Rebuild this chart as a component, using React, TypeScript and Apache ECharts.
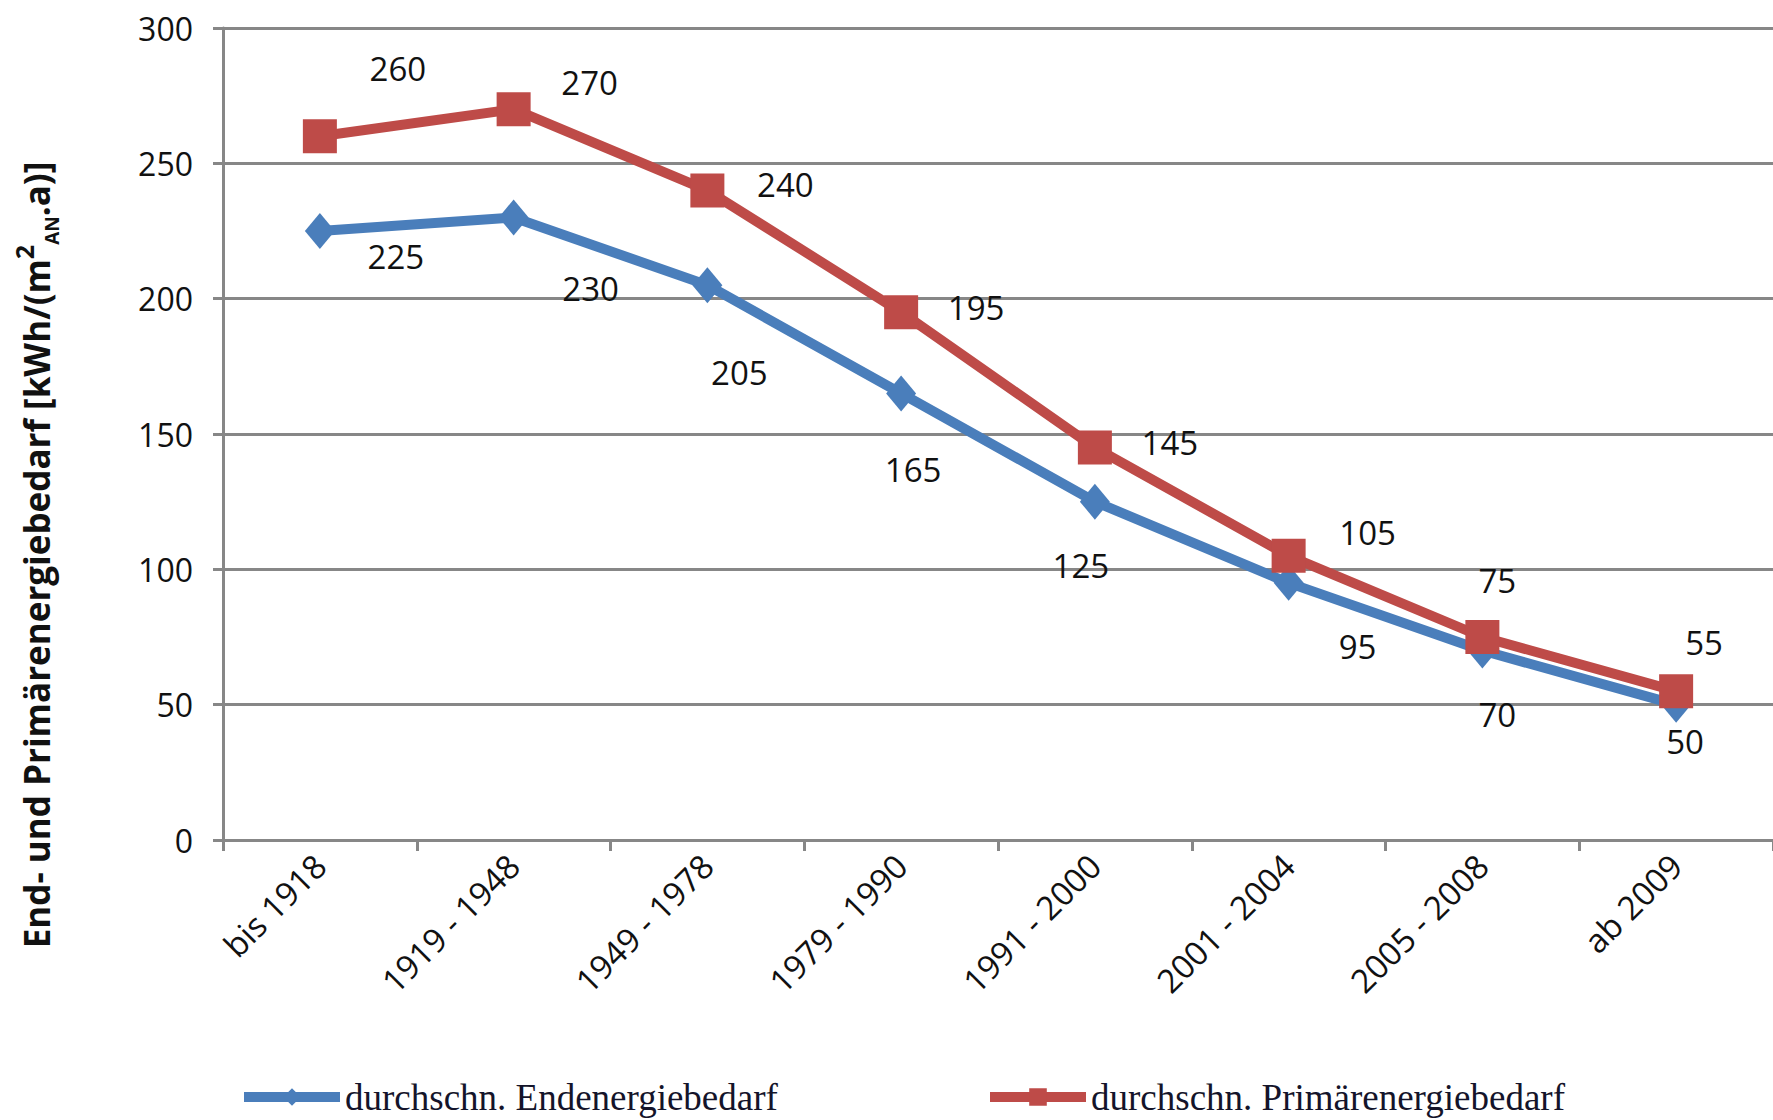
import React, { useEffect, useRef } from "react";
import * as echarts from "echarts";

// Baualtersklassen
const categories = [
  "bis 1918",
  "1919 - 1948",
  "1949 - 1978",
  "1979 - 1990",
  "1991 - 2000",
  "2001 - 2004",
  "2005 - 2008",
  "ab 2009",
];

// kWh/(m²AN·a)
const endenergie = [225, 230, 205, 165, 125, 95, 70, 50];
const primaerenergie = [260, 270, 240, 195, 145, 105, 75, 55];

const yTicks = { min: 0, max: 300, interval: 50 };

const seriesNames = ["durchschn. Endenergiebedarf", "durchschn. Primärenergiebedarf"];

// label placement around each marker (dx, dy in px)
const endLabelOffsets: [number, number][] = [
  [76, 25], [77, 71], [32, 87], [12, 76], [-14, 64], [69, 64], [15, 64], [9, 37],
];
const primLabelOffsets: [number, number][] = [
  [78, -68], [76, -27], [78, -6], [75, -5], [75, -5], [79, -23], [15, -57], [28, -49],
];

const BLUE = "#4A7EBB";
const RED = "#BE4B48";
const GRID = "#878787";
const FONT = "'Open Sans', 'DejaVu Sans', sans-serif";
const SERIF = "'Liberation Serif', 'DejaVu Serif', serif";

function withLabels(values: number[], offsets: [number, number][]) {
  return values.map((v, i) => ({
    value: v,
    label: { offset: offsets[i] },
  }));
}

export default function App() {
  const ref = useRef<HTMLDivElement>(null);

  useEffect(() => {
    if (!ref.current) return;
    const chart = echarts.init(ref.current, undefined, { renderer: "svg" });

    const labelStyle = {
      show: true,
      position: "inside" as const,
      color: "#111",
      fontSize: 33,
      fontFamily: FONT,
    };

    const legendBase = {
      top: 1073,
      itemWidth: 96,
      itemHeight: 22,
      lineStyle: { width: 10 },
      textStyle: {
        fontFamily: SERIF,
        fontSize: 37,
        lineHeight: 38,
        color: "#14142a",
      },
    };

    chart.setOption({
      animation: false,
      backgroundColor: "#ffffff",
      grid: { left: 223, right: 23, top: 28, bottom: 280 },
      xAxis: {
        type: "category",
        data: categories,
        boundaryGap: true,
        axisLine: { show: true, lineStyle: { color: GRID, width: 3 } },
        axisTick: { show: true, alignWithLabel: false, length: 11, lineStyle: { color: GRID, width: 3 } },
        axisLabel: {
          rotate: 45,
          margin: 20,
          interval: 0,
          color: "#111",
          fontSize: 33,
          fontFamily: FONT,
        },
        splitLine: { show: false },
      },
      yAxis: {
        type: "value",
        min: yTicks.min,
        max: yTicks.max,
        interval: yTicks.interval,
        axisLine: { show: true, lineStyle: { color: GRID, width: 3 } },
        axisTick: { show: true, length: 10, lineStyle: { color: GRID, width: 3 } },
        axisLabel: { margin: 30, color: "#111", fontSize: 32, fontFamily: FONT },
        splitLine: { show: true, lineStyle: { color: GRID, width: 3 } },
      },
      legend: [
        { ...legendBase, data: [seriesNames[0]], left: 234 },
        { ...legendBase, data: [seriesNames[1]], left: 980 },
      ],
      series: [
        {
          name: seriesNames[0],
          type: "line",
          data: withLabels(endenergie, endLabelOffsets),
          symbol: "diamond",
          symbolSize: [30, 36],
          lineStyle: { color: BLUE, width: 10 },
          itemStyle: { color: BLUE },
          label: labelStyle,
          z: 2,
        },
        {
          name: seriesNames[1],
          type: "line",
          data: withLabels(primaerenergie, primLabelOffsets),
          symbol: "rect",
          symbolSize: 34,
          lineStyle: { color: RED, width: 10 },
          itemStyle: { color: RED },
          label: labelStyle,
          z: 3,
        },
      ],
      graphic: [
        {
          type: "text",
          x: 36,
          y: 555,
          rotation: Math.PI / 2,
          style: {
            text: "End- und Primärenergiebedarf [kWh/(m{sup|2}{sub|AN}.a)]",
            fontFamily: FONT,
            fontWeight: "bold",
            fontSize: 35,
            fill: "#111",
            align: "center",
            verticalAlign: "middle",
            lineHeight: 50,
            rich: {
              sup: { fontSize: 25, fontWeight: "bold", fontFamily: FONT, verticalAlign: "top", lineHeight: 50 },
              sub: { fontSize: 19, fontWeight: "bold", fontFamily: FONT, verticalAlign: "bottom", lineHeight: 50 },
            },
          },
        },
      ],
    });

    return () => chart.dispose();
  }, []);

  return (
    <div style={{ position: "absolute", left: 0, top: 0, width: 1773, height: 1120, overflow: "hidden", background: "#fff" }}>
      <div ref={ref} style={{ width: 1796, height: 1120 }} />
    </div>
  );
}
